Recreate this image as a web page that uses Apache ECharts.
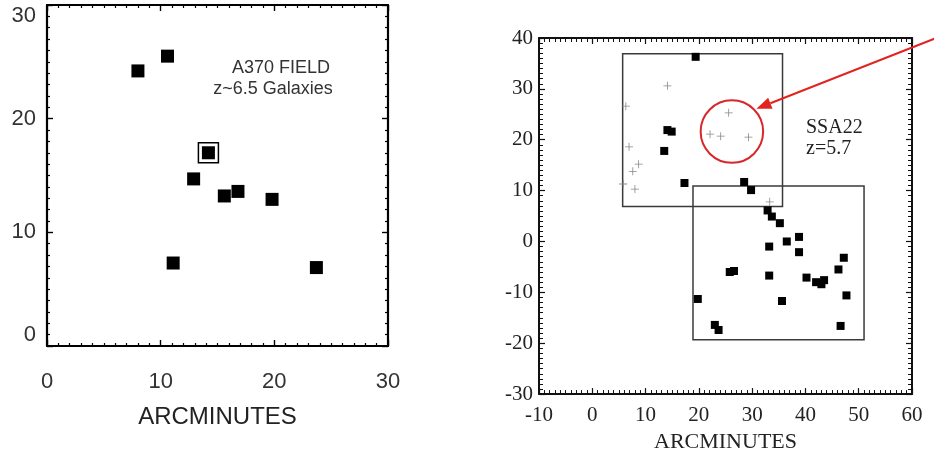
<!DOCTYPE html>
<html>
<head>
<meta charset="utf-8">
<title>A370 / SSA22 fields</title>
<script src="https://cdn.jsdelivr.net/npm/echarts@6/dist/echarts.min.js"></script>
<style>
  html, body { margin: 0; padding: 0; background: #fff; }
  #chart { width: 934px; height: 458px; }
</style>
</head>
<body>
<div id="chart"></div>
<script>
// left panel: A370 field, z~6.5 galaxies (arcminutes)
const a370Galaxies = [
  [8.0, 24.2], [10.6, 25.5], [12.9, 14.7], [15.6, 13.2], [16.8, 13.6],
  [19.8, 12.9], [11.1, 7.3], [23.7, 6.9], [14.2, 17.0]
]
const a370Flagged = [[14.2, 17.0]]
const a370Ticks = [0, 10, 20, 30]

// right panel: SSA22 field, z=5.7
const ssa22Squares = [
  [19.4, 36.3], [14.1, 21.9], [14.9, 21.6], [13.5, 17.8], [17.3, 11.5],
  [28.5, 11.7], [29.8, 10.1], [32.9, 6.1], [33.7, 4.9], [35.2, 3.6],
  [33.2, -1.0], [36.5, 0.0], [38.8, 0.9], [38.8, -2.1], [47.2, -3.2],
  [46.2, -5.5], [25.8, -6.0], [26.6, -5.8], [33.2, -6.7], [40.2, -7.1],
  [42.0, -8.0], [43.0, -8.4], [43.5, -7.6], [47.7, -10.6], [19.8, -11.3],
  [35.6, -11.7], [23.0, -16.4], [23.7, -17.4], [46.6, -16.6]
]
const ssa22Crosses = [
  [14.1, 30.6], [6.3, 26.6], [6.9, 18.6], [8.7, 15.2], [7.6, 13.8],
  [5.8, 11.3], [8.0, 10.3], [25.6, 25.3], [22.1, 21.1], [24.1, 20.7],
  [29.3, 20.5], [33.3, 7.8]
]
// [xMin, yMin, xMax, yMax]
const ssa22Fields = [[5.7, 6.9, 35.7, 36.9], [18.9, -19.3, 51.0, 10.9]]
// [x, y, radius]
const ssa22Circle = [[26.2, 21.6, 6.0]]
// [xFrom, yFrom, xTo, yTo]
const ssa22Arrow = [[66, 40.6, 30.8, 26.1]]
const ssa22XTicks = [-10, 0, 10, 20, 30, 40, 50, 60]
const ssa22YTicks = [-30, -20, -10, 0, 10, 20, 30, 40]

const sans = 'Liberation Sans'
const serif = 'Liberation Serif'

function frameAxis (o) {
  // one side of the box frame: line + inward ticks, optional labels
  return Object.assign({
    type: 'value',
    axisLine: { show: true, onZero: false, lineStyle: { color: '#000', width: 2.2 } },
    axisTick: { show: true, inside: true, length: 6, lineStyle: { color: '#000', width: 1.4 } },
    minorTick: { show: true, splitNumber: 10, length: 3, lineStyle: { color: '#000', width: 1.2 } },
    splitLine: { show: false },
    axisLabel: { show: false }
  }, o)
}

const chart = echarts.init(document.getElementById('chart'), null, { renderer: 'canvas' })

const option = {
  animation: false,
  backgroundColor: '#fff',
  grid: [
    { left: 47, top: 5, width: 341, height: 341 },
    { left: 539, top: 38, width: 373, height: 363 }
  ],
  xAxis: [
    frameAxis({
      gridIndex: 0, position: 'bottom', min: a370Ticks[0], max: a370Ticks[a370Ticks.length - 1], interval: 10,
      axisLabel: { show: true, margin: 25, color: '#333', fontFamily: sans, fontSize: 22 },
      name: 'ARCMINUTES', nameLocation: 'middle', nameGap: 59,
      nameTextStyle: { color: '#222', fontFamily: sans, fontSize: 24 }
    }),
    frameAxis({ gridIndex: 0, position: 'top', min: 0, max: 30, interval: 10 }),
    frameAxis({
      gridIndex: 1, position: 'bottom', min: ssa22XTicks[0], max: ssa22XTicks[ssa22XTicks.length - 1], interval: 10,
      axisLine: { show: true, onZero: false, lineStyle: { color: '#111', width: 2 } },
      axisTick: { show: true, inside: true, length: 6, lineStyle: { color: '#111', width: 1.2 } },
      minorTick: { show: true, splitNumber: 10, length: 4, lineStyle: { color: '#111', width: 1 } },
      axisLabel: { show: true, margin: 11, color: '#222', fontFamily: serif, fontSize: 21 },
      name: 'ARCMINUTES', nameLocation: 'middle', nameGap: 35,
      nameTextStyle: { color: '#222', fontFamily: serif, fontSize: 22 }
    }),
    frameAxis({
      gridIndex: 1, position: 'top', min: -10, max: 60, interval: 10,
      axisLine: { show: true, onZero: false, lineStyle: { color: '#111', width: 2 } },
      axisTick: { show: true, inside: true, length: 6, lineStyle: { color: '#111', width: 1.2 } },
      minorTick: { show: true, splitNumber: 10, length: 4, lineStyle: { color: '#111', width: 1 } }
    })
  ],
  yAxis: [
    frameAxis({
      gridIndex: 0, position: 'left', min: a370Ticks[0], max: a370Ticks[a370Ticks.length - 1], interval: 10,
      axisLabel: {
        show: true, margin: 11, color: '#333', fontFamily: sans, fontSize: 22,
        verticalAlignMinLabel: 'bottom', verticalAlignMaxLabel: 'top'
      }
    }),
    frameAxis({ gridIndex: 0, position: 'right', min: 0, max: 30, interval: 10 }),
    frameAxis({
      gridIndex: 1, position: 'left', min: ssa22YTicks[0], max: ssa22YTicks[ssa22YTicks.length - 1], interval: 10,
      axisLine: { show: true, onZero: false, lineStyle: { color: '#111', width: 2 } },
      axisTick: { show: true, inside: true, length: 6, lineStyle: { color: '#111', width: 1.2 } },
      minorTick: { show: true, splitNumber: 10, length: 4, lineStyle: { color: '#111', width: 1 } },
      axisLabel: { show: true, margin: 6, color: '#222', fontFamily: serif, fontSize: 21 }
    }),
    frameAxis({
      gridIndex: 1, position: 'right', min: -30, max: 40, interval: 10,
      axisLine: { show: true, onZero: false, lineStyle: { color: '#111', width: 2 } },
      axisTick: { show: true, inside: true, length: 6, lineStyle: { color: '#111', width: 1.2 } },
      minorTick: { show: true, splitNumber: 10, length: 4, lineStyle: { color: '#111', width: 1 } }
    })
  ],
  graphic: [
    { type: 'text', style: { text: 'A370 FIELD', x: 0, y: 0, align: 'center', verticalAlign: 'middle', fill: '#333', font: '18px "Liberation Sans"' }, position: [281, 68] },
    { type: 'text', style: { text: 'z~6.5 Galaxies', x: 0, y: 0, align: 'center', verticalAlign: 'middle', fill: '#333', font: '18px "Liberation Sans"' }, position: [273, 89] },
    { type: 'text', style: { text: 'SSA22', x: 0, y: 0, align: 'left', verticalAlign: 'middle', fill: '#222', font: '20px "Liberation Serif"' }, position: [806, 128] },
    { type: 'text', style: { text: 'z=5.7', x: 0, y: 0, align: 'left', verticalAlign: 'middle', fill: '#222', font: '20px "Liberation Serif"' }, position: [806, 149] }
  ],
  series: [
    {
      name: 'A370 galaxies',
      type: 'scatter',
      xAxisIndex: 0,
      yAxisIndex: 0,
      symbol: 'rect',
      symbolSize: 13,
      itemStyle: { color: '#000', opacity: 1 },
      data: a370Galaxies
    },
    {
      name: 'A370 flagged',
      type: 'scatter',
      xAxisIndex: 0,
      yAxisIndex: 0,
      symbol: 'rect',
      symbolSize: 20,
      itemStyle: { color: 'none', borderColor: '#000', borderWidth: 1.5, opacity: 1 },
      data: a370Flagged
    },
    {
      name: 'SSA22 fields',
      type: 'custom',
      xAxisIndex: 2,
      yAxisIndex: 2,
      data: ssa22Fields,
      renderItem (params, api) {
        const p0 = api.coord([api.value(0), api.value(3)])
        const p1 = api.coord([api.value(2), api.value(1)])
        return {
          type: 'rect',
          shape: { x: p0[0], y: p0[1], width: p1[0] - p0[0], height: p1[1] - p0[1] },
          style: { fill: 'none', stroke: '#3a3a3a', lineWidth: 1.5 }
        }
      }
    },
    {
      name: 'SSA22 crosses',
      type: 'scatter',
      xAxisIndex: 2,
      yAxisIndex: 2,
      symbol: 'path://M0,4.5H10V5.5H0Z M4.5,0H5.5V10H4.5Z',
      symbolSize: 8,
      itemStyle: { color: '#888', opacity: 1 },
      data: ssa22Crosses
    },
    {
      name: 'SSA22 squares',
      type: 'scatter',
      xAxisIndex: 2,
      yAxisIndex: 2,
      symbol: 'rect',
      symbolSize: 8,
      itemStyle: { color: '#000', opacity: 1 },
      data: ssa22Squares
    },
    {
      name: 'SSA22 circle',
      type: 'custom',
      xAxisIndex: 2,
      yAxisIndex: 2,
      data: ssa22Circle,
      renderItem (params, api) {
        const c = api.coord([api.value(0), api.value(1)])
        const r = api.size([api.value(2), api.value(2)])
        return {
          type: 'circle',
          shape: { cx: c[0], cy: c[1], r: (r[0] + r[1]) / 2 },
          style: { fill: 'none', stroke: '#d8262a', lineWidth: 2 }
        }
      }
    },
    {
      name: 'SSA22 arrow',
      type: 'custom',
      xAxisIndex: 2,
      yAxisIndex: 2,
      clip: false,
      data: ssa22Arrow,
      renderItem (params, api) {
        const a = api.coord([api.value(0), api.value(1)])
        const b = api.coord([api.value(2), api.value(3)])
        const dx = b[0] - a[0]
        const dy = b[1] - a[1]
        const len = Math.sqrt(dx * dx + dy * dy)
        const ux = dx / len
        const uy = dy / len
        const headLen = 15
        const headW = 6
        const base = [b[0] - ux * headLen, b[1] - uy * headLen]
        return {
          type: 'group',
          children: [
            {
              type: 'line',
              shape: { x1: a[0], y1: a[1], x2: base[0], y2: base[1] },
              style: { stroke: '#e2231f', lineWidth: 2 }
            },
            {
              type: 'polygon',
              shape: {
                points: [
                  [b[0], b[1]],
                  [base[0] - uy * headW, base[1] + ux * headW],
                  [base[0] + uy * headW, base[1] - ux * headW]
                ]
              },
              style: { fill: '#e2231f' }
            }
          ]
        }
      }
    }
  ]
}

chart.setOption(option)
</script>
</body>
</html>
